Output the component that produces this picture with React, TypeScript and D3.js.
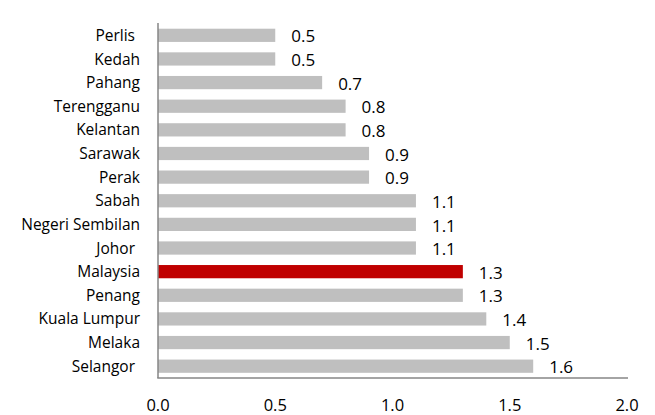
import React from "react";
import * as d3 from "d3";

const categories = ["Perlis ", "Kedah", "Pahang", "Terengganu", "Kelantan", "Sarawak", "Perak", "Sabah", "Negeri Sembilan", "Johor ", "Malaysia", "Penang", "Kuala Lumpur", "Melaka", "Selangor "];
const values = [0.5, 0.5, 0.7, 0.8, 0.8, 0.9, 0.9, 1.1, 1.1, 1.1, 1.3, 1.3, 1.4, 1.5, 1.6];
const highlight = ["Malaysia"];
const xTicks = [0, 0.5, 1.0, 1.5, 2.0];

export default function App() {
  const W = 655, H = 415;
  const left = 158, right = 627, top = 23.5, bottom = 378;
  const x = d3.scaleLinear().domain([0, 2]).range([left, right]);
  const y = d3.scaleBand<string>().domain(categories).range([top, bottom]).paddingInner(0.44).paddingOuter(0.22);
  const font = "'Open Sans', sans-serif";
  return (
    <svg width={W} height={H} style={{ position: "absolute", left: 0, top: 0, background: "#fff" }}>
      {categories.map((c, i) => {
        const yy = y(c)!;
        const bw = y.bandwidth();
        const isH = highlight.includes(c.trim());
        const lx = c.endsWith(" ") ? 135 : 140;
        return (
          <g key={c}>
            <rect x={x(0)} y={yy} width={x(values[i]) - x(0)} height={bw} fill={isH ? "#c00000" : "#bfbfbf"} />
            <text x={lx} y={yy + bw / 2} dy="0.36em" textAnchor="end" fontFamily={font} fontSize={15.5} fill="#000">
              {c.trim()}
            </text>
            <text x={x(values[i]) + 16} y={yy + bw / 2 + 1} dy="0.36em" fontFamily={font} fontSize={17} fill="#000">
              {values[i].toFixed(1)}
            </text>
          </g>
        );
      })}
      <line x1={x(0)} x2={x(0)} y1={top - 0.5} y2={bottom} stroke="#868686" strokeWidth={1.5} />
      <line x1={x(0) - 0.75} x2={right + 1} y1={bottom} y2={bottom} stroke="#868686" strokeWidth={1.5} />
      {xTicks.map((t) => (
        <text key={t} x={x(t)} y={411} textAnchor="middle" fontFamily={font} fontSize={16.5} fill="#000">
          {t.toFixed(1)}
        </text>
      ))}
    </svg>
  );
}
